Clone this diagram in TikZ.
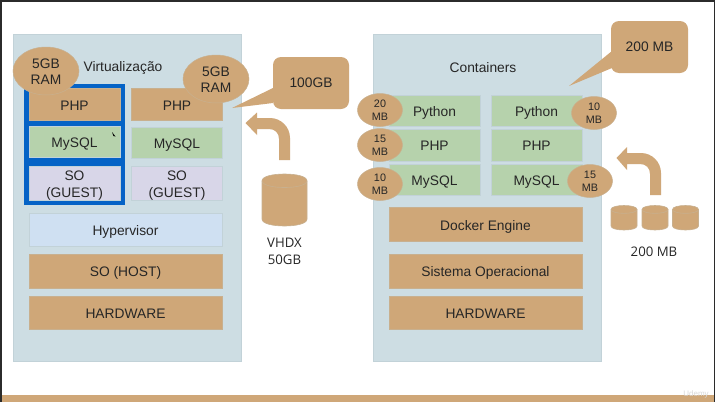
\documentclass[tikz,border=0pt]{standalone}
\usepackage{fontspec}
\setmainfont{Liberation Sans}
\newfontfamily\opensans{Open Sans}
\usetikzlibrary{shapes.geometric}
\definecolor{tanc}{HTML}{CFA778}
\definecolor{tanl}{HTML}{C8B08F}
\definecolor{panelc}{HTML}{CDDDE3}
\definecolor{panell}{HTML}{C2D2D8}
\definecolor{greenc}{HTML}{B6D2AC}
\definecolor{lavc}{HTML}{D8D6E8}
\definecolor{hypc}{HTML}{CFE0F2}
\definecolor{bluec}{HTML}{0563C6}
\definecolor{inkc}{HTML}{262626}
\definecolor{darkc}{HTML}{2B2B2B}
\newcommand{\twolines}[3]{\raisebox{#3}[0pt][0pt]{\begin{tabular}{@{}c@{}}#1\\#2\end{tabular}}}
% #1 name, #2 left, #3 top, #4 width, #5 height, #6 rim depth as fraction of height
\newcommand{\diskcan}[6]{%
  \begin{scope}[shift={(#2,#3)},x=#4pt,y=-#5pt]
    \coordinate (#1) at (.5,.5);
    \draw[can] (0,#6) .. controls (0,{-#6/3}) and (1,{-#6/3}) .. (1,#6) -- (1,{1-#6})
      .. controls (1,{1+#6/3}) and (0,{1+#6/3}) .. (0,{1-#6}) -- cycle;
    \draw[rimline] (0,#6) .. controls (0,{#6*7/3}) and (1,{#6*7/3}) .. (1,#6);
  \end{scope}}
\tikzset{
  panel/.style={draw=panell,line width=.8pt,fill=panelc,inner sep=0pt,minimum width=228pt,minimum height=327pt},
  block/.style={draw=panell,line width=.7pt,inner sep=0pt,text=inkc,font=\fontsize{13.8}{17}\selectfont,text height=11pt,text depth=0pt},
  tanbox/.style={block,fill=tanc,draw=tanl},
  greenbox/.style={block,fill=greenc},
  lavbox/.style={block,fill=lavc},
  hypbox/.style={block,fill=hypc},
  narrow/.style={minimum width=91pt},
  wide/.style={minimum width=193pt},
  ramblob/.style={ellipse,fill=tanc,draw=tanl,line width=.5pt,inner sep=0pt,minimum width=66pt,minimum height=48pt,align=center,text=inkc,font=\fontsize{13.8}{16.5}\selectfont},
  mbblob/.style={ellipse,fill=tanc,draw=tanl,line width=.5pt,inner sep=0pt,minimum width=45pt,minimum height=33pt,align=center,text=inkc,font=\fontsize{10.8}{13}\selectfont},
  callbox/.style={fill=tanc,rounded corners=8pt,inner sep=0pt,minimum width=76pt,minimum height=52pt,text=inkc,font=\fontsize{13.8}{17}\selectfont},
  title/.style={text=inkc,font=\fontsize{13.8}{17}\selectfont},
  caption/.style={align=center,text=inkc,font=\opensans\fontsize{13.2}{17}\selectfont},
  can/.style={draw=tanl,line width=.6pt,fill=tanc},
  rimline/.style={draw=tanl,line width=.6pt},
}
\begin{document}
\begin{tikzpicture}[x=1pt,y=-1pt]
\useasboundingbox (0,0) rectangle (715,402);
\fill[white] (0,0) rectangle (715,402);
% screen edges
\fill[darkc] (0,0) rectangle (715,1.6);
\fill[darkc] (0,0) rectangle (1.8,402);
\fill[darkc] (713.5,0) rectangle (715,402);
\fill[tanc] (1.8,395) rectangle (713.5,402);
% panels
\node[panel] (virt) at (127,197.5) {};
\node[panel] (cont) at (487,197.5) {};
\node[title] (virtt) at (123,68) {Virtualização};
\node[title] (contt) at (483,67.5) {Containers};
% left stack
\fill[bluec] (23.5,84) rectangle (125,205);
\node[tanbox,narrow,minimum height=32pt] (php1) at (74.5,104.5) {PHP};
\node[greenbox,narrow,minimum height=31pt] (my1) at (74.5,141.5) {MySQL};
\node[lavbox,narrow,minimum height=34pt,text height=,text depth=] (so1) at (74.5,183) {\twolines{SO}{(GUEST)}{-6pt}};
\node[tanbox,narrow,minimum height=32pt] (php2) at (177,104.5) {PHP};
\node[greenbox,narrow,minimum height=31pt] (my2) at (177,142.5) {MySQL};
\node[lavbox,narrow,minimum height=34pt,text height=,text depth=] (so2) at (177,183) {\twolines{SO}{(GUEST)}{-6pt}};
\node[hypbox,wide,minimum height=33pt] (hyp) at (125.5,229.5) {Hypervisor};
\node[tanbox,wide,minimum height=34pt] (host) at (125.5,271) {SO (HOST)};
\node[tanbox,wide,minimum height=33pt] (hw1) at (125.5,312.5) {HARDWARE};
\fill[black] (112,132) -- (115.5,136.5) -- (113.4,136) -- cycle;
\node[ramblob] (ram1) at (46,71) {\rule{0pt}{11pt}5GB\\RAM};
\node[ramblob] (ram2) at (216,79) {\rule{0pt}{11pt}5GB\\RAM};
% 100GB callout
\fill[tanc] (273,88) -- (232,108) -- (273,103) -- cycle;
\node[callbox] (c100) at (311,83) {100GB};
% left block arrow
\coordinate (la) at (279,160);
\fill[tanc] (la) -- (279,139) .. controls (279,133) and (275,129) .. (269,129) -- (257,129) -- (257,135) -- (245.5,123) -- (257,112.5) -- (257,118)
  -- (270,118) .. controls (281,118) and (290,127) .. (290,138) -- (290,160) -- cycle;
\diskcan{vhdx}{262}{174}{45}{52}{.13}
\node[caption] (vhdxt) at (284.5,251) {VHDX\\50GB};
% right stack
\node[greenbox,narrow,minimum height=31pt] (py1) at (434.5,110.5) {Python};
\node[greenbox,narrow,minimum height=32pt] (ph1) at (434.5,145) {PHP};
\node[greenbox,narrow,minimum height=31pt] (ms1) at (434.5,179.5) {MySQL};
\node[greenbox,narrow,minimum height=31pt] (py2) at (536.5,110.5) {Python};
\node[greenbox,narrow,minimum height=32pt] (ph2) at (536.5,145) {PHP};
\node[greenbox,narrow,minimum height=31pt] (ms2) at (536.5,179.5) {MySQL};
\node[tanbox,wide,minimum height=34pt] (dock) at (485.5,224.5) {Docker Engine};
\node[tanbox,wide,minimum height=34pt] (sis) at (485.5,271) {Sistema Operacional};
\node[tanbox,wide,minimum height=33pt] (hw2) at (485.5,312.5) {HARDWARE};
\node[mbblob] (m1) at (380,110) {20\\MB};
\node[mbblob] (m2) at (380,145) {15\\MB};
\node[mbblob] (m3) at (380,184) {10\\MB};
\node[mbblob] (m4) at (594,113) {10\\MB};
\node[mbblob] (m5) at (590,181) {15\\MB};
% 200 MB callout
\fill[tanc] (612,51) -- (569,86) -- (612,68) -- cycle;
\node[callbox,minimum width=77pt] (c200) at (649.5,47) {200 MB};
% right block arrow
\coordinate (ra) at (650,195);
\fill[tanc] (ra) -- (650,174) .. controls (650,168) and (646,164) .. (640,164) -- (627,164) -- (627,170) -- (616.5,158) -- (627,147) -- (627,153)
  -- (641,153) .. controls (652,153) and (661,162) .. (661,173) -- (661,195) -- cycle;
\diskcan{d1}{611}{205.5}{26}{24.5}{.16}
\diskcan{d2}{642}{205.5}{26}{24.5}{.16}
\diskcan{d3}{672.5}{205.5}{26}{24.5}{.16}
\node[caption] (dt) at (654,252) {200 MB};
\node[text=gray!30,font=\fontsize{8}{9}\selectfont] (ud) at (696,394) {Udemy};
\end{tikzpicture}
\end{document}
